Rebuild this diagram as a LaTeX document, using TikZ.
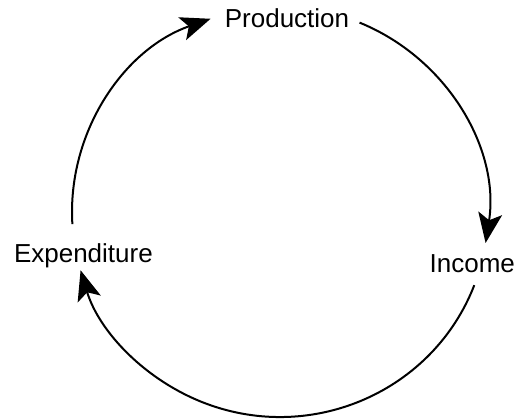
\documentclass[tikz,border=0pt]{standalone}
\usepackage{fontspec}
\setmainfont{Liberation Sans}
\usetikzlibrary{arrows.meta,calc}

\begin{document}
\begin{tikzpicture}[x=0.5pt, y=-0.5pt]
    \tikzset{
        flowtext/.style = {anchor=base, inner sep=0pt, font=\fontsize{13}{15.6}\selectfont},
        arrow/.style = {line width=1pt, -{Stealth[length=15pt, width=12pt, inset=3.5pt]}}
    }
    \useasboundingbox[fill=white] (0,0) rectangle (515,419);
    \coordinate (centre) at (280,212);

    \node[flowtext] (production) at (287,27) {Production};
    \node[flowtext] (income) at (472.3,272) {Income};
    \node[flowtext] (expenditure) at (83.4,262) {Expenditure};

    % arcs of the cycle
    \coordinate (prodout) at ($(centre)+(-67.5:208 and 205)$);
    \coordinate (incout) at ($(centre)+(20.9:208 and 205)$);
    \coordinate (expout) at ($(centre)+(176.6:208 and 205)$);
    \draw [arrow] (prodout) arc[start angle=-67.5, end angle=8.7, x radius=208, y radius=205];
    \draw [arrow] (incout) arc[start angle=20.9, end angle=163.5, x radius=208, y radius=205];
    \draw [arrow] (expout) arc[start angle=176.6, end angle=250.5, x radius=208, y radius=205];
\end{tikzpicture}
\end{document}
